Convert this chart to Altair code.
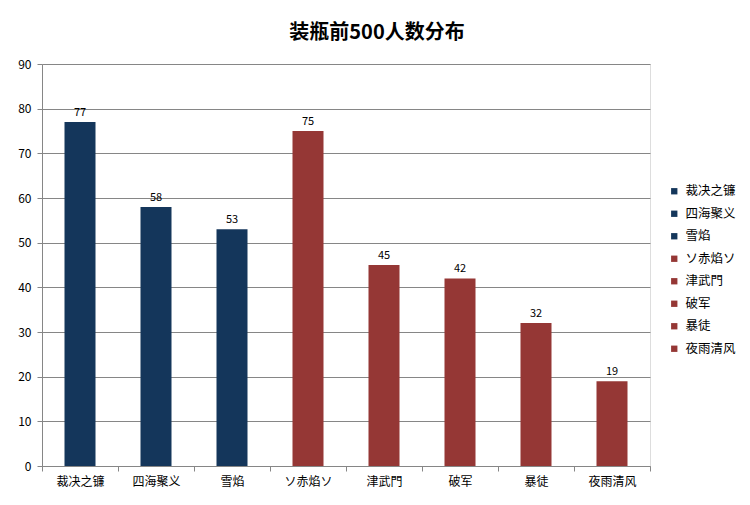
import altair as alt
import pandas as pd

categories = ["裁决之镰", "四海聚义", "雪焰", "ソ赤焰ソ", "津武門", "破军", "暴徒", "夜雨清风"]
values = [77, 58, 53, 75, 45, 42, 32, 19]
colors = ["#14365B", "#14365B", "#14365B", "#953735", "#953735", "#953735", "#953735", "#953735"]
y_ticks = [0, 10, 20, 30, 40, 50, 60, 70, 80, 90]
title_text = "装瓶前500人数分布"

df = pd.DataFrame({"name": categories, "count": values})

FONT = "Noto Sans CJK SC"

base = alt.Chart(df).encode(
    x=alt.X("name:N", sort=categories, title=None,
            scale=alt.Scale(paddingInner=0, paddingOuter=0),
            axis=alt.Axis(labelAngle=0, labelFont=FONT, labelFontSize=12, labelColor="#000000",
                          domainColor="#868686", tickColor="#868686", tickBand="extent",
                          tickSize=5, labelPadding=5, grid=False)),
)

bars = base.mark_bar(size=31).encode(
    y=alt.Y("count:Q", title=None,
            scale=alt.Scale(domain=[0, 90], nice=False),
            axis=alt.Axis(values=y_ticks, labelFont=FONT, labelFontSize=12, labelColor="#000000",
                          domainColor="#868686", tickColor="#868686", tickSize=5,
                          gridColor="#868686", gridWidth=1, labelPadding=6)),
    color=alt.Color("name:N", sort=categories,
                    scale=alt.Scale(domain=categories, range=colors),
                    legend=alt.Legend(title=None, orient="none", legendX=626, legendY=121,
                                      symbolType="square", symbolSize=40, symbolStrokeWidth=0,
                                      labelFont=FONT, labelFontSize=12.5, labelColor="#000000",
                                      rowPadding=9.5, labelOffset=5, symbolOffset=0)),
)

labels = base.mark_text(dy=-9, font=FONT, fontSize=11, color="#000000").encode(
    y=alt.Y("count:Q"),
    text=alt.Text("count:Q"),
)

chart = alt.layer(bars, labels).properties(
    width=608,
    height=402,
    title=alt.TitleParams(title_text, font=FONT, fontSize=20, fontWeight="bold",
                          color="#000000", anchor="middle", offset=15, dx=31),
    padding={"left": 34, "top": 56, "right": 90, "bottom": 30},
    autosize=alt.AutoSizeParams(type="none"),
).configure_view(stroke=None).configure(background="white").configure_legend(
    symbolLimit=0, labelLimit=0
)

chart.save("out.html", embed_options={"renderer": "svg", "actions": False})
